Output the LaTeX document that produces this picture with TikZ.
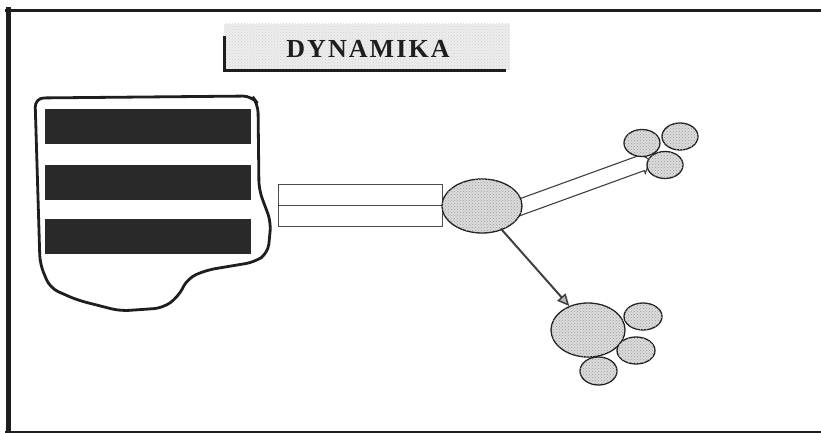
\documentclass[tikz,border=0pt]{standalone}
\usepackage{fontspec}
\setmainfont{Liberation Serif}
\newfontfamily\titlefont[LetterSpace=8]{Liberation Serif}
\usetikzlibrary{shapes.geometric,arrows.meta,calc,patterns}
\definecolor{ink}{HTML}{1E1E1E}
\tikzset{
  blob/.style={ellipse, draw=ink, line width=1.3pt, fill=gray!28, inner sep=0pt,
    postaction={pattern=crosshatch dots, pattern color=gray!75}},
  bar/.style={rectangle, fill=ink!95, inner sep=0pt, minimum width=206pt, minimum height=35pt},
  slab/.style={rectangle, draw=ink!80, line width=1pt, fill=white, inner sep=0pt, minimum width=164pt, minimum height=21pt},
  frameline/.style={draw=ink, line cap=rect}
}
\begin{document}
\begin{tikzpicture}[x=1pt,y=-1pt]
\useasboundingbox (0,0) rectangle (821,433);
% outer frame
\draw[frameline, line width=3pt] (6,11) -- (823,11);
\draw[frameline, line width=5pt] (8,10) -- (8,435);
\draw[frameline, line width=2.5pt] (6,432) -- (823,432);

% title
\fill[gray!14, postaction={pattern=crosshatch dots, pattern color=gray!35}] (224,24) rectangle (510,70);
\draw[ink, line width=3.5pt] (224.5,36) -- (224.5,70.5) -- (506,70.5);
\node[font=\titlefont\bfseries\fontsize{26}{30}\selectfont, text=ink, inner sep=0pt] (title) at (368,49) {DYNAMIKA};

% shield
\draw[ink, line width=2.8pt, fill=white, rounded corners=9pt]
 (35,98) -- (252,96) -- (258,104) -- (259,190) -- (271,222) -- (268,253) -- (255,262)
 -- (207,270) -- (188,278) -- (178,297) -- (163,308) -- (120,311) -- (77,300) -- (50,288)
 -- (40,264) -- cycle;
\node[bar] (bar1) at (148,126.5) {};
\node[bar] (bar2) at (148,182) {};
\node[bar] (bar3) at (148,236.5) {};

% slabs
\node[slab] (slabA) at (360,194.5) {};
\node[slab] (slabB) at (360,215.5) {};

% hollow arrow to top cluster
\coordinate (s) at (515,209);
\coordinate (t) at (650,160);
\coordinate (m) at ($(t)!9pt!(s)$);
\draw[ink!85, line width=1.1pt, fill=white, line join=miter]
  ($(s)!8pt!90:(t)$) -- ($(m)!8pt!90:(t)$) -- ($(m)!11pt!90:(t)$) -- (t)
  -- ($(m)!11pt!-90:(t)$) -- ($(m)!8pt!-90:(t)$) -- ($(s)!8pt!-90:(t)$) -- cycle;

% hub ellipse
\node[blob, minimum width=80pt, minimum height=54pt] (hub) at (482,206) {};

% top cluster
\node[blob, minimum width=36pt, minimum height=27pt] (c1) at (642,143) {};
\node[blob, minimum width=36pt, minimum height=27pt] (c2) at (680,136.5) {};
\node[blob, minimum width=36pt, minimum height=27pt] (c3) at (665,165) {};

% bottom cluster
\node[blob, minimum width=74pt, minimum height=54pt] (big) at (588,330) {};
\node[blob, minimum width=38pt, minimum height=27pt] (d1) at (643,316.5) {};
\node[blob, minimum width=38pt, minimum height=27pt] (d2) at (636,350.5) {};
\node[blob, minimum width=37pt, minimum height=28pt] (d3) at (598.5,371) {};

% dark arrow
\draw[ink!85, line width=2pt, -{Triangle[length=12pt, width=11pt, line width=1.5pt, fill=gray!55]}]
  ($(hub.south east)+(-10,3)$) -- (big.128);
\end{tikzpicture}
\end{document}
